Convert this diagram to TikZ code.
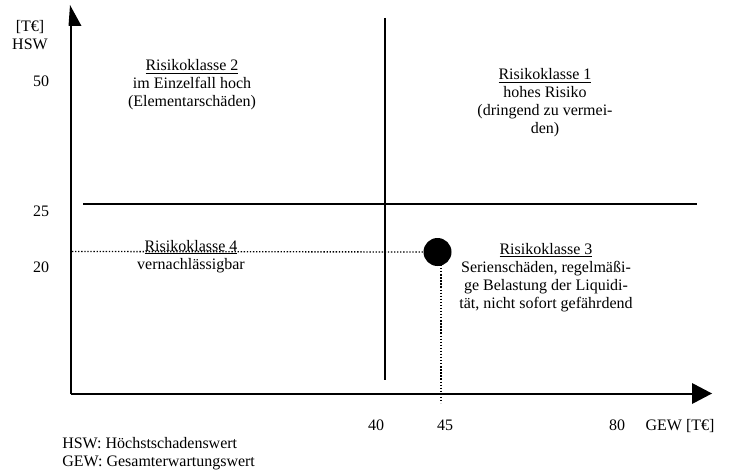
\documentclass[tikz,border=0pt]{standalone}
\usepackage{fontspec}
\setmainfont{Liberation Serif}
\begin{document}
\begin{tikzpicture}[x=0.75pt,y=-0.75pt,
  lbl/.style={anchor=base,inner sep=0pt,font=\fontsize{12}{13.5}\selectfont},
  axis/.style={line width=1.5pt},
  divider/.style={line width=1.3pt},
  dots/.style={line width=1pt,dash pattern=on 1pt off 1.3pt},
  tip/.style={fill=black}]
\useasboundingbox (0,0) rectangle (731,474);
% axes
\coordinate (O) at (71,394);
\coordinate (ytop) at (71,24);
\coordinate (xend) at (693,394);
\draw[axis] (O) -- (ytop);
\draw[axis] (O) -- (xend);
\fill[tip] (70,5) -- (68.5,26) -- (81.5,26) -- cycle;
\fill[tip] (692,383) -- (712,393.5) -- (692,404) -- cycle;
% dividers
\coordinate (vtop) at (385,18);
\coordinate (vbot) at (385,380);
\coordinate (hl) at (83,204);
\coordinate (hr) at (697,204);
\draw[divider] (vtop) -- (vbot);
\draw[divider] (hl) -- (hr);
% point
\node[circle,fill=black,inner sep=0pt,minimum size=21pt] (dot) at (437.5,252) {};
\coordinate (dl) at (72,251.5);
\coordinate (dv1) at (441,265);
\coordinate (dv2) at (441,403);
\draw[dots] (dl) -- (dot.west);
\draw[dots] (dv1) -- (dv2);
% axis labels
\node[lbl] (unit) at (30,32) {\begin{tabular}[t]{@{}c@{}}[T€]\\HSW\end{tabular}};
\node[lbl] (y50) at (41,87) {50};
\node[lbl] (y25) at (41,216) {25};
\node[lbl] (y20) at (41,272) {20};
\node[lbl] (x40) at (376,430) {40};
\node[lbl] (x45) at (445,430) {45};
\node[lbl] (x80) at (617,430) {80};
\node[lbl] (xunit) at (680,430) {GEW [T€]};
\node[lbl,anchor=base west] (legend) at (62,448) {\begin{tabular}[t]{@{}l@{}}HSW: Höchstschadenswert\\GEW: Gesamterwartungswert\end{tabular}};
% risk classes
\node[lbl] (rk2) at (192,71) {\begin{tabular}[t]{@{}c@{}}\underline{Risikoklasse 2}\\im Einzelfall hoch\\(Elementarschäden)\end{tabular}};
\node[lbl] (rk1) at (545,80) {\begin{tabular}[t]{@{}c@{}}\underline{Risikoklasse 1}\\hohes Risiko\\(dringend zu vermei-\\den)\end{tabular}};
\node[lbl] (rk4) at (191,251) {\begin{tabular}[t]{@{}c@{}}\underline{Risikoklasse 4}\\vernachlässigbar\end{tabular}};
\node[lbl] (rk3) at (546,254) {\begin{tabular}[t]{@{}c@{}}\underline{Risikoklasse 3}\\Serienschäden, regelmäßi-\\ge Belastung der Liquidi-\\tät, nicht sofort gefährdend\end{tabular}};
\end{tikzpicture}
\end{document}
